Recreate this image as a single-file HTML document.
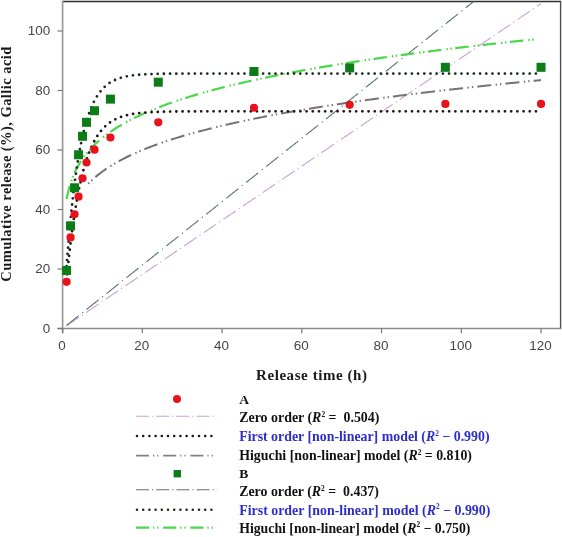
<!DOCTYPE html>
<html><head><meta charset="utf-8"><style>
html,body{margin:0;padding:0;background:#fff;}
body{width:562px;height:537px;overflow:hidden;}
svg{display:block;filter:blur(0.35px);}
.tk{font-family:"Liberation Sans",sans-serif;font-size:12px;fill:#444;}
.ttl{font-family:"Liberation Serif",serif;font-weight:bold;font-size:14px;fill:#1a1a1a;}
.lg{font-family:"Liberation Serif",serif;font-weight:bold;font-size:14.2px;}
</style></head><body>
<svg width="562" height="537" viewBox="0 0 562 537">
<rect width="562" height="537" fill="#fff"/>
<defs><clipPath id="pc"><rect x="62.6" y="1.5" width="498" height="327"/></clipPath></defs>
<line x1="62" y1="1.5" x2="561.2" y2="1.5" stroke="#2e2e2e" stroke-width="1.4"/>
<line x1="560.6" y1="1.5" x2="560.6" y2="328.5" stroke="#505050" stroke-width="1.4"/>
<line x1="62.6" y1="1" x2="62.6" y2="333.3" stroke="#9a9a9a" stroke-width="1.7"/>
<line x1="57.5" y1="328.5" x2="561.2" y2="328.5" stroke="#8a8a8a" stroke-width="1.6"/>
<line x1="57.5" y1="328.50" x2="62.6" y2="328.50" stroke="#777" stroke-width="1.2"/>
<text x="50.3" y="332.80" text-anchor="end" class="tk" textLength="7.47" lengthAdjust="spacingAndGlyphs">0</text>
<line x1="57.5" y1="269.00" x2="62.6" y2="269.00" stroke="#777" stroke-width="1.2"/>
<text x="50.3" y="273.30" text-anchor="end" class="tk" textLength="14.95" lengthAdjust="spacingAndGlyphs">20</text>
<line x1="57.5" y1="209.50" x2="62.6" y2="209.50" stroke="#777" stroke-width="1.2"/>
<text x="50.3" y="213.80" text-anchor="end" class="tk" textLength="14.95" lengthAdjust="spacingAndGlyphs">40</text>
<line x1="57.5" y1="150.00" x2="62.6" y2="150.00" stroke="#777" stroke-width="1.2"/>
<text x="50.3" y="154.30" text-anchor="end" class="tk" textLength="14.95" lengthAdjust="spacingAndGlyphs">60</text>
<line x1="57.5" y1="90.50" x2="62.6" y2="90.50" stroke="#777" stroke-width="1.2"/>
<text x="50.3" y="94.80" text-anchor="end" class="tk" textLength="14.95" lengthAdjust="spacingAndGlyphs">80</text>
<line x1="57.5" y1="31.00" x2="62.6" y2="31.00" stroke="#777" stroke-width="1.2"/>
<text x="50.3" y="35.30" text-anchor="end" class="tk" textLength="22.42" lengthAdjust="spacingAndGlyphs">100</text>
<line x1="62.60" y1="328.5" x2="62.60" y2="333.3" stroke="#777" stroke-width="1.2"/>
<text x="62.10" y="350.0" text-anchor="middle" class="tk" textLength="7.47" lengthAdjust="spacingAndGlyphs">0</text>
<line x1="142.34" y1="328.5" x2="142.34" y2="333.3" stroke="#777" stroke-width="1.2"/>
<text x="141.84" y="350.0" text-anchor="middle" class="tk" textLength="14.95" lengthAdjust="spacingAndGlyphs">20</text>
<line x1="222.08" y1="328.5" x2="222.08" y2="333.3" stroke="#777" stroke-width="1.2"/>
<text x="221.58" y="350.0" text-anchor="middle" class="tk" textLength="14.95" lengthAdjust="spacingAndGlyphs">40</text>
<line x1="301.82" y1="328.5" x2="301.82" y2="333.3" stroke="#777" stroke-width="1.2"/>
<text x="301.32" y="350.0" text-anchor="middle" class="tk" textLength="14.95" lengthAdjust="spacingAndGlyphs">60</text>
<line x1="381.56" y1="328.5" x2="381.56" y2="333.3" stroke="#777" stroke-width="1.2"/>
<text x="381.06" y="350.0" text-anchor="middle" class="tk" textLength="14.95" lengthAdjust="spacingAndGlyphs">80</text>
<line x1="461.30" y1="328.5" x2="461.30" y2="333.3" stroke="#777" stroke-width="1.2"/>
<text x="460.80" y="350.0" text-anchor="middle" class="tk" textLength="22.42" lengthAdjust="spacingAndGlyphs">100</text>
<line x1="541.04" y1="328.5" x2="541.04" y2="333.3" stroke="#777" stroke-width="1.2"/>
<text x="540.54" y="350.0" text-anchor="middle" class="tk" textLength="22.42" lengthAdjust="spacingAndGlyphs">120</text>
<g clip-path="url(#pc)" fill="none">
<path d="M66.59,325.79 L68.17,324.72 L69.75,323.64 L71.33,322.57 L72.91,321.50 L74.49,320.42 L76.08,319.35 L77.66,318.28 L79.24,317.20 L80.82,316.13 L82.40,315.05 L83.98,313.98 L85.57,312.91 L87.15,311.83 L88.73,310.76 L90.31,309.68 L91.89,308.61 L93.47,307.54 L95.05,306.46 L96.64,305.39 L98.22,304.32 L99.80,303.24 L101.38,302.17 L102.96,301.09 L104.54,300.02 L106.12,298.95 L107.71,297.87 L109.29,296.80 L110.87,295.72 L112.45,294.65 L114.03,293.58 L115.61,292.50 L117.20,291.43 L118.78,290.35 L120.36,289.28 L121.94,288.21 L123.52,287.13 L125.10,286.06 L126.68,284.99 L128.27,283.91 L129.85,282.84 L131.43,281.76 L133.01,280.69 L134.59,279.62 L136.17,278.54 L137.75,277.47 L139.34,276.39 L140.92,275.32 L142.50,274.25 L144.08,273.17 L145.66,272.10 L147.24,271.03 L148.83,269.95 L150.41,268.88 L151.99,267.80 L153.57,266.73 L155.15,265.66 L156.73,264.58 L158.31,263.51 L159.90,262.43 L161.48,261.36 L163.06,260.29 L164.64,259.21 L166.22,258.14 L167.80,257.06 L169.39,255.99 L170.97,254.92 L172.55,253.84 L174.13,252.77 L175.71,251.70 L177.29,250.62 L178.87,249.55 L180.46,248.47 L182.04,247.40 L183.62,246.33 L185.20,245.25 L186.78,244.18 L188.36,243.10 L189.94,242.03 L191.53,240.96 L193.11,239.88 L194.69,238.81 L196.27,237.73 L197.85,236.66 L199.43,235.59 L201.02,234.51 L202.60,233.44 L204.18,232.37 L205.76,231.29 L207.34,230.22 L208.92,229.14 L210.50,228.07 L212.09,227.00 L213.67,225.92 L215.25,224.85 L216.83,223.77 L218.41,222.70 L219.99,221.63 L221.57,220.55 L223.16,219.48 L224.74,218.41 L226.32,217.33 L227.90,216.26 L229.48,215.18 L231.06,214.11 L232.65,213.04 L234.23,211.96 L235.81,210.89 L237.39,209.81 L238.97,208.74 L240.55,207.67 L242.13,206.59 L243.72,205.52 L245.30,204.44 L246.88,203.37 L248.46,202.30 L250.04,201.22 L251.62,200.15 L253.21,199.08 L254.79,198.00 L256.37,196.93 L257.95,195.85 L259.53,194.78 L261.11,193.71 L262.69,192.63 L264.28,191.56 L265.86,190.48 L267.44,189.41 L269.02,188.34 L270.60,187.26 L272.18,186.19 L273.76,185.12 L275.35,184.04 L276.93,182.97 L278.51,181.89 L280.09,180.82 L281.67,179.75 L283.25,178.67 L284.84,177.60 L286.42,176.52 L288.00,175.45 L289.58,174.38 L291.16,173.30 L292.74,172.23 L294.32,171.15 L295.91,170.08 L297.49,169.01 L299.07,167.93 L300.65,166.86 L302.23,165.79 L303.81,164.71 L305.40,163.64 L306.98,162.56 L308.56,161.49 L310.14,160.42 L311.72,159.34 L313.30,158.27 L314.88,157.19 L316.47,156.12 L318.05,155.05 L319.63,153.97 L321.21,152.90 L322.79,151.82 L324.37,150.75 L325.95,149.68 L327.54,148.60 L329.12,147.53 L330.70,146.46 L332.28,145.38 L333.86,144.31 L335.44,143.23 L337.03,142.16 L338.61,141.09 L340.19,140.01 L341.77,138.94 L343.35,137.86 L344.93,136.79 L346.51,135.72 L348.10,134.64 L349.68,133.57 L351.26,132.50 L352.84,131.42 L354.42,130.35 L356.00,129.27 L357.58,128.20 L359.17,127.13 L360.75,126.05 L362.33,124.98 L363.91,123.90 L365.49,122.83 L367.07,121.76 L368.66,120.68 L370.24,119.61 L371.82,118.53 L373.40,117.46 L374.98,116.39 L376.56,115.31 L378.14,114.24 L379.73,113.17 L381.31,112.09 L382.89,111.02 L384.47,109.94 L386.05,108.87 L387.63,107.80 L389.22,106.72 L390.80,105.65 L392.38,104.57 L393.96,103.50 L395.54,102.43 L397.12,101.35 L398.70,100.28 L400.29,99.20 L401.87,98.13 L403.45,97.06 L405.03,95.98 L406.61,94.91 L408.19,93.84 L409.77,92.76 L411.36,91.69 L412.94,90.61 L414.52,89.54 L416.10,88.47 L417.68,87.39 L419.26,86.32 L420.85,85.24 L422.43,84.17 L424.01,83.10 L425.59,82.02 L427.17,80.95 L428.75,79.88 L430.33,78.80 L431.92,77.73 L433.50,76.65 L435.08,75.58 L436.66,74.51 L438.24,73.43 L439.82,72.36 L441.40,71.28 L442.99,70.21 L444.57,69.14 L446.15,68.06 L447.73,66.99 L449.31,65.91 L450.89,64.84 L452.48,63.77 L454.06,62.69 L455.64,61.62 L457.22,60.55 L458.80,59.47 L460.38,58.40 L461.96,57.32 L463.55,56.25 L465.13,55.18 L466.71,54.10 L468.29,53.03 L469.87,51.95 L471.45,50.88 L473.04,49.81 L474.62,48.73 L476.20,47.66 L477.78,46.59 L479.36,45.51 L480.94,44.44 L482.52,43.36 L484.11,42.29 L485.69,41.22 L487.27,40.14 L488.85,39.07 L490.43,37.99 L492.01,36.92 L493.59,35.85 L495.18,34.77 L496.76,33.70 L498.34,32.62 L499.92,31.55 L501.50,30.48 L503.08,29.40 L504.67,28.33 L506.25,27.26 L507.83,26.18 L509.41,25.11 L510.99,24.03 L512.57,22.96 L514.15,21.89 L515.74,20.81 L517.32,19.74 L518.90,18.66 L520.48,17.59 L522.06,16.52 L523.64,15.44 L525.22,14.37 L526.81,13.29 L528.39,12.22 L529.97,11.15 L531.55,10.07 L533.13,9.00 L534.71,7.93 L536.30,6.85 L537.88,5.78 L539.46,4.70 L541.04,3.63" stroke="#cba0d6" stroke-width="1.1" stroke-dasharray="15 3.5 1.2 4"/>
<path d="M66.59,325.33 L67.96,324.24 L69.32,323.15 L70.69,322.06 L72.06,320.97 L73.43,319.88 L74.80,318.80 L76.17,317.71 L77.54,316.62 L78.91,315.53 L80.28,314.44 L81.64,313.35 L83.01,312.26 L84.38,311.17 L85.75,310.09 L87.12,309.00 L88.49,307.91 L89.86,306.82 L91.23,305.73 L92.60,304.64 L93.96,303.55 L95.33,302.46 L96.70,301.37 L98.07,300.29 L99.44,299.20 L100.81,298.11 L102.18,297.02 L103.55,295.93 L104.92,294.84 L106.28,293.75 L107.65,292.66 L109.02,291.57 L110.39,290.49 L111.76,289.40 L113.13,288.31 L114.50,287.22 L115.87,286.13 L117.24,285.04 L118.60,283.95 L119.97,282.86 L121.34,281.78 L122.71,280.69 L124.08,279.60 L125.45,278.51 L126.82,277.42 L128.19,276.33 L129.56,275.24 L130.92,274.15 L132.29,273.06 L133.66,271.98 L135.03,270.89 L136.40,269.80 L137.77,268.71 L139.14,267.62 L140.51,266.53 L141.87,265.44 L143.24,264.35 L144.61,263.27 L145.98,262.18 L147.35,261.09 L148.72,260.00 L150.09,258.91 L151.46,257.82 L152.83,256.73 L154.19,255.64 L155.56,254.55 L156.93,253.47 L158.30,252.38 L159.67,251.29 L161.04,250.20 L162.41,249.11 L163.78,248.02 L165.15,246.93 L166.51,245.84 L167.88,244.76 L169.25,243.67 L170.62,242.58 L171.99,241.49 L173.36,240.40 L174.73,239.31 L176.10,238.22 L177.47,237.13 L178.83,236.04 L180.20,234.96 L181.57,233.87 L182.94,232.78 L184.31,231.69 L185.68,230.60 L187.05,229.51 L188.42,228.42 L189.79,227.33 L191.15,226.25 L192.52,225.16 L193.89,224.07 L195.26,222.98 L196.63,221.89 L198.00,220.80 L199.37,219.71 L200.74,218.62 L202.11,217.53 L203.47,216.45 L204.84,215.36 L206.21,214.27 L207.58,213.18 L208.95,212.09 L210.32,211.00 L211.69,209.91 L213.06,208.82 L214.42,207.73 L215.79,206.65 L217.16,205.56 L218.53,204.47 L219.90,203.38 L221.27,202.29 L222.64,201.20 L224.01,200.11 L225.38,199.02 L226.74,197.94 L228.11,196.85 L229.48,195.76 L230.85,194.67 L232.22,193.58 L233.59,192.49 L234.96,191.40 L236.33,190.31 L237.70,189.22 L239.06,188.14 L240.43,187.05 L241.80,185.96 L243.17,184.87 L244.54,183.78 L245.91,182.69 L247.28,181.60 L248.65,180.51 L250.02,179.43 L251.38,178.34 L252.75,177.25 L254.12,176.16 L255.49,175.07 L256.86,173.98 L258.23,172.89 L259.60,171.80 L260.97,170.71 L262.34,169.63 L263.70,168.54 L265.07,167.45 L266.44,166.36 L267.81,165.27 L269.18,164.18 L270.55,163.09 L271.92,162.00 L273.29,160.92 L274.66,159.83 L276.02,158.74 L277.39,157.65 L278.76,156.56 L280.13,155.47 L281.50,154.38 L282.87,153.29 L284.24,152.20 L285.61,151.12 L286.98,150.03 L288.34,148.94 L289.71,147.85 L291.08,146.76 L292.45,145.67 L293.82,144.58 L295.19,143.49 L296.56,142.41 L297.93,141.32 L299.29,140.23 L300.66,139.14 L302.03,138.05 L303.40,136.96 L304.77,135.87 L306.14,134.78 L307.51,133.69 L308.88,132.61 L310.25,131.52 L311.61,130.43 L312.98,129.34 L314.35,128.25 L315.72,127.16 L317.09,126.07 L318.46,124.98 L319.83,123.90 L321.20,122.81 L322.57,121.72 L323.93,120.63 L325.30,119.54 L326.67,118.45 L328.04,117.36 L329.41,116.27 L330.78,115.18 L332.15,114.10 L333.52,113.01 L334.89,111.92 L336.25,110.83 L337.62,109.74 L338.99,108.65 L340.36,107.56 L341.73,106.47 L343.10,105.38 L344.47,104.30 L345.84,103.21 L347.21,102.12 L348.57,101.03 L349.94,99.94 L351.31,98.85 L352.68,97.76 L354.05,96.67 L355.42,95.59 L356.79,94.50 L358.16,93.41 L359.53,92.32 L360.89,91.23 L362.26,90.14 L363.63,89.05 L365.00,87.96 L366.37,86.87 L367.74,85.79 L369.11,84.70 L370.48,83.61 L371.85,82.52 L373.21,81.43 L374.58,80.34 L375.95,79.25 L377.32,78.16 L378.69,77.08 L380.06,75.99 L381.43,74.90 L382.80,73.81 L384.16,72.72 L385.53,71.63 L386.90,70.54 L388.27,69.45 L389.64,68.36 L391.01,67.28 L392.38,66.19 L393.75,65.10 L395.12,64.01 L396.48,62.92 L397.85,61.83 L399.22,60.74 L400.59,59.65 L401.96,58.57 L403.33,57.48 L404.70,56.39 L406.07,55.30 L407.44,54.21 L408.80,53.12 L410.17,52.03 L411.54,50.94 L412.91,49.85 L414.28,48.77 L415.65,47.68 L417.02,46.59 L418.39,45.50 L419.76,44.41 L421.12,43.32 L422.49,42.23 L423.86,41.14 L425.23,40.06 L426.60,38.97 L427.97,37.88 L429.34,36.79 L430.71,35.70 L432.08,34.61 L433.44,33.52 L434.81,32.43 L436.18,31.34 L437.55,30.26 L438.92,29.17 L440.29,28.08 L441.66,26.99 L443.03,25.90 L444.40,24.81 L445.76,23.72 L447.13,22.63 L448.50,21.55 L449.87,20.46 L451.24,19.37 L452.61,18.28 L453.98,17.19 L455.35,16.10 L456.71,15.01 L458.08,13.92 L459.45,12.83 L460.82,11.75 L462.19,10.66 L463.56,9.57 L464.93,8.48 L466.30,7.39 L467.67,6.30 L469.03,5.21 L470.40,4.12 L471.77,3.03 L473.14,1.95 L474.51,0.86 L475.88,-0.23 L477.25,-1.32" stroke="#5a7070" stroke-width="1.1" stroke-dasharray="15.5 4.5 1.2 4.3"/>
<path d="M86.52,185.63 L88.04,184.00 L89.55,182.45 L91.07,180.96 L92.58,179.54 L94.10,178.18 L95.61,176.87 L97.13,175.61 L98.64,174.40 L100.16,173.22 L101.67,172.08 L103.19,170.98 L104.70,169.91 L106.22,168.87 L107.73,167.86 L109.25,166.88 L110.76,165.92 L112.28,164.99 L113.79,164.08 L115.31,163.20 L116.82,162.33 L118.34,161.48 L119.85,160.65 L121.37,159.84 L122.88,159.05 L124.40,158.27 L125.91,157.51 L127.43,156.76 L128.94,156.02 L130.46,155.30 L131.97,154.60 L133.49,153.90 L135.00,153.22 L136.52,152.55 L138.03,151.89 L139.55,151.24 L141.06,150.60 L142.58,149.97 L144.09,149.35 L145.61,148.74 L147.12,148.14 L148.64,147.54 L150.15,146.96 L151.67,146.38 L153.18,145.82 L154.70,145.26 L156.21,144.70 L157.73,144.16 L159.24,143.62 L160.76,143.09 L162.28,142.56 L163.79,142.04 L165.31,141.53 L166.82,141.03 L168.34,140.53 L169.85,140.03 L171.37,139.54 L172.88,139.06 L174.40,138.58 L175.91,138.11 L177.43,137.64 L178.94,137.18 L180.46,136.72 L181.97,136.27 L183.49,135.82 L185.00,135.38 L186.52,134.94 L188.03,134.50 L189.55,134.07 L191.06,133.65 L192.58,133.23 L194.09,132.81 L195.61,132.39 L197.12,131.98 L198.64,131.58 L200.15,131.17 L201.67,130.77 L203.18,130.38 L204.70,129.98 L206.21,129.60 L207.73,129.21 L209.24,128.83 L210.76,128.45 L212.27,128.07 L213.79,127.70 L215.30,127.33 L216.82,126.96 L218.33,126.60 L219.85,126.24 L221.36,125.88 L222.88,125.52 L224.39,125.17 L225.91,124.82 L227.42,124.47 L228.94,124.13 L230.45,123.79 L231.97,123.45 L233.48,123.11 L235.00,122.77 L236.51,122.44 L238.03,122.11 L239.54,121.78 L241.06,121.46 L242.57,121.13 L244.09,120.81 L245.60,120.49 L247.12,120.18 L248.63,119.86 L250.15,119.55 L251.66,119.24 L253.18,118.93 L254.69,118.62 L256.21,118.32 L257.72,118.02 L259.24,117.72 L260.75,117.42 L262.27,117.12 L263.78,116.82 L265.30,116.53 L266.81,116.24 L268.33,115.95 L269.84,115.66 L271.36,115.38 L272.87,115.09 L274.39,114.81 L275.90,114.53 L277.42,114.25 L278.93,113.97 L280.45,113.69 L281.96,113.42 L283.48,113.14 L284.99,112.87 L286.51,112.60 L288.02,112.33 L289.54,112.06 L291.06,111.80 L292.57,111.53 L294.09,111.27 L295.60,111.01 L297.12,110.75 L298.63,110.49 L300.15,110.23 L301.66,109.98 L303.18,109.72 L304.69,109.47 L306.21,109.21 L307.72,108.96 L309.24,108.71 L310.75,108.47 L312.27,108.22 L313.78,107.97 L315.30,107.73 L316.81,107.48 L318.33,107.24 L319.84,107.00 L321.36,106.76 L322.87,106.52 L324.39,106.28 L325.90,106.04 L327.42,105.81 L328.93,105.57 L330.45,105.34 L331.96,105.11 L333.48,104.88 L334.99,104.65 L336.51,104.42 L338.02,104.19 L339.54,103.96 L341.05,103.74 L342.57,103.51 L344.08,103.29 L345.60,103.06 L347.11,102.84 L348.63,102.62 L350.14,102.40 L351.66,102.18 L353.17,101.96 L354.69,101.74 L356.20,101.53 L357.72,101.31 L359.23,101.10 L360.75,100.88 L362.26,100.67 L363.78,100.46 L365.29,100.25 L366.81,100.03 L368.32,99.83 L369.84,99.62 L371.35,99.41 L372.87,99.20 L374.38,99.00 L375.90,98.79 L377.41,98.58 L378.93,98.38 L380.44,98.18 L381.96,97.98 L383.47,97.77 L384.99,97.57 L386.50,97.37 L388.02,97.17 L389.53,96.98 L391.05,96.78 L392.56,96.58 L394.08,96.39 L395.59,96.19 L397.11,95.99 L398.62,95.80 L400.14,95.61 L401.65,95.41 L403.17,95.22 L404.68,95.03 L406.20,94.84 L407.71,94.65 L409.23,94.46 L410.74,94.27 L412.26,94.09 L413.77,93.90 L415.29,93.71 L416.81,93.53 L418.32,93.34 L419.84,93.16 L421.35,92.97 L422.87,92.79 L424.38,92.61 L425.90,92.42 L427.41,92.24 L428.93,92.06 L430.44,91.88 L431.96,91.70 L433.47,91.52 L434.99,91.35 L436.50,91.17 L438.02,90.99 L439.53,90.81 L441.05,90.64 L442.56,90.46 L444.08,90.29 L445.59,90.11 L447.11,89.94 L448.62,89.77 L450.14,89.59 L451.65,89.42 L453.17,89.25 L454.68,89.08 L456.20,88.91 L457.71,88.74 L459.23,88.57 L460.74,88.40 L462.26,88.23 L463.77,88.06 L465.29,87.90 L466.80,87.73 L468.32,87.56 L469.83,87.40 L471.35,87.23 L472.86,87.07 L474.38,86.90 L475.89,86.74 L477.41,86.57 L478.92,86.41 L480.44,86.25 L481.95,86.09 L483.47,85.93 L484.98,85.77 L486.50,85.60 L488.01,85.44 L489.53,85.29 L491.04,85.13 L492.56,84.97 L494.07,84.81 L495.59,84.65 L497.10,84.49 L498.62,84.34 L500.13,84.18 L501.65,84.02 L503.16,83.87 L504.68,83.71 L506.19,83.56 L507.71,83.41 L509.22,83.25 L510.74,83.10 L512.25,82.95 L513.77,82.79 L515.28,82.64 L516.80,82.49 L518.31,82.34 L519.83,82.19 L521.34,82.04 L522.86,81.89 L524.37,81.74 L525.89,81.59 L527.40,81.44 L528.92,81.29 L530.43,81.14 L531.95,80.99 L533.46,80.85 L534.98,80.70 L536.49,80.55 L538.01,80.41 L539.52,80.26 L541.04,80.12" stroke="#747474" stroke-width="2" stroke-dasharray="14 4.5 1.4 3 1.4 4" stroke-dashoffset="16"/>
<path d="M66.59,199.09 L68.15,191.67 L69.72,185.83 L71.28,180.97 L72.84,176.80 L74.41,173.12 L75.97,169.84 L77.54,166.85 L79.10,164.12 L80.67,161.59 L82.23,159.24 L83.79,157.04 L85.36,154.97 L86.92,153.02 L88.49,151.17 L90.05,149.41 L91.61,147.73 L93.18,146.12 L94.74,144.58 L96.31,143.11 L97.87,141.68 L99.44,140.31 L101.00,138.99 L102.56,137.71 L104.13,136.48 L105.69,135.28 L107.26,134.11 L108.82,132.98 L110.39,131.88 L111.95,130.81 L113.51,129.77 L115.08,128.76 L116.64,127.77 L118.21,126.80 L119.77,125.86 L121.34,124.93 L122.90,124.03 L124.46,123.15 L126.03,122.28 L127.59,121.43 L129.16,120.60 L130.72,119.79 L132.28,118.99 L133.85,118.20 L135.41,117.43 L136.98,116.67 L138.54,115.93 L140.11,115.20 L141.67,114.48 L143.23,113.77 L144.80,113.08 L146.36,112.39 L147.93,111.72 L149.49,111.05 L151.06,110.40 L152.62,109.76 L154.18,109.12 L155.75,108.49 L157.31,107.88 L158.88,107.27 L160.44,106.66 L162.01,106.07 L163.57,105.49 L165.13,104.91 L166.70,104.34 L168.26,103.77 L169.83,103.22 L171.39,102.67 L172.95,102.12 L174.52,101.59 L176.08,101.05 L177.65,100.53 L179.21,100.01 L180.78,99.50 L182.34,98.99 L183.90,98.49 L185.47,97.99 L187.03,97.50 L188.60,97.01 L190.16,96.53 L191.73,96.05 L193.29,95.58 L194.85,95.12 L196.42,94.65 L197.98,94.19 L199.55,93.74 L201.11,93.29 L202.68,92.85 L204.24,92.40 L205.80,91.97 L207.37,91.53 L208.93,91.11 L210.50,90.68 L212.06,90.26 L213.62,89.84 L215.19,89.43 L216.75,89.01 L218.32,88.61 L219.88,88.20 L221.45,87.80 L223.01,87.40 L224.57,87.01 L226.14,86.62 L227.70,86.23 L229.27,85.85 L230.83,85.46 L232.40,85.09 L233.96,84.71 L235.52,84.34 L237.09,83.97 L238.65,83.60 L240.22,83.23 L241.78,82.87 L243.35,82.51 L244.91,82.15 L246.47,81.80 L248.04,81.45 L249.60,81.10 L251.17,80.75 L252.73,80.40 L254.29,80.06 L255.86,79.72 L257.42,79.38 L258.99,79.05 L260.55,78.71 L262.12,78.38 L263.68,78.05 L265.24,77.73 L266.81,77.40 L268.37,77.08 L269.94,76.76 L271.50,76.44 L273.07,76.12 L274.63,75.81 L276.19,75.49 L277.76,75.18 L279.32,74.87 L280.89,74.57 L282.45,74.26 L284.02,73.96 L285.58,73.66 L287.14,73.36 L288.71,73.06 L290.27,72.76 L291.84,72.47 L293.40,72.17 L294.97,71.88 L296.53,71.59 L298.09,71.30 L299.66,71.01 L301.22,70.73 L302.79,70.45 L304.35,70.16 L305.91,69.88 L307.48,69.60 L309.04,69.33 L310.61,69.05 L312.17,68.77 L313.74,68.50 L315.30,68.23 L316.86,67.96 L318.43,67.69 L319.99,67.42 L321.56,67.15 L323.12,66.89 L324.69,66.63 L326.25,66.36 L327.81,66.10 L329.38,65.84 L330.94,65.58 L332.51,65.33 L334.07,65.07 L335.64,64.81 L337.20,64.56 L338.76,64.31 L340.33,64.06 L341.89,63.81 L343.46,63.56 L345.02,63.31 L346.58,63.06 L348.15,62.82 L349.71,62.57 L351.28,62.33 L352.84,62.09 L354.41,61.85 L355.97,61.61 L357.53,61.37 L359.10,61.13 L360.66,60.89 L362.23,60.65 L363.79,60.42 L365.36,60.19 L366.92,59.95 L368.48,59.72 L370.05,59.49 L371.61,59.26 L373.18,59.03 L374.74,58.80 L376.31,58.58 L377.87,58.35 L379.43,58.12 L381.00,57.90 L382.56,57.68 L384.13,57.45 L385.69,57.23 L387.25,57.01 L388.82,56.79 L390.38,56.57 L391.95,56.35 L393.51,56.14 L395.08,55.92 L396.64,55.71 L398.20,55.49 L399.77,55.28 L401.33,55.06 L402.90,54.85 L404.46,54.64 L406.03,54.43 L407.59,54.22 L409.15,54.01 L410.72,53.80 L412.28,53.60 L413.85,53.39 L415.41,53.18 L416.98,52.98 L418.54,52.77 L420.10,52.57 L421.67,52.37 L423.23,52.16 L424.80,51.96 L426.36,51.76 L427.92,51.56 L429.49,51.36 L431.05,51.16 L432.62,50.97 L434.18,50.77 L435.75,50.57 L437.31,50.38 L438.87,50.18 L440.44,49.99 L442.00,49.79 L443.57,49.60 L445.13,49.41 L446.70,49.22 L448.26,49.02 L449.82,48.83 L451.39,48.64 L452.95,48.45 L454.52,48.27 L456.08,48.08 L457.65,47.89 L459.21,47.70 L460.77,47.52 L462.34,47.33 L463.90,47.15 L465.47,46.96 L467.03,46.78 L468.59,46.60 L470.16,46.41 L471.72,46.23 L473.29,46.05 L474.85,45.87 L476.42,45.69 L477.98,45.51 L479.54,45.33 L481.11,45.15 L482.67,44.97 L484.24,44.79 L485.80,44.62 L487.37,44.44 L488.93,44.27 L490.49,44.09 L492.06,43.92 L493.62,43.74 L495.19,43.57 L496.75,43.39 L498.32,43.22 L499.88,43.05 L501.44,42.88 L503.01,42.71 L504.57,42.54 L506.14,42.37 L507.70,42.20 L509.26,42.03 L510.83,41.86 L512.39,41.69 L513.96,41.52 L515.52,41.35 L517.09,41.19 L518.65,41.02 L520.21,40.86 L521.78,40.69 L523.34,40.53 L524.91,40.36 L526.47,40.20 L528.04,40.03 L529.60,39.87 L531.16,39.71 L532.73,39.55 L534.29,39.38 L535.86,39.22" stroke="#4ad84a" stroke-width="2.2" stroke-dasharray="13.5 5 1.5 2.5 1.5 3.5"/>
<path d="M66.59,280.46 L68.17,264.49 L69.75,250.03 L71.33,236.94 L72.91,225.08 L74.49,214.34 L76.08,204.61 L77.66,195.81 L79.24,187.83 L80.82,180.61 L82.40,174.07 L83.98,168.14 L85.57,162.78 L87.15,157.92 L88.73,153.52 L90.31,149.54 L91.89,145.93 L93.47,142.66 L95.05,139.71 L96.64,137.03 L98.22,134.60 L99.80,132.40 L101.38,130.41 L102.96,128.61 L104.54,126.98 L106.12,125.50 L107.71,124.16 L109.29,122.95 L110.87,121.85 L112.45,120.86 L114.03,119.96 L115.61,119.14 L117.20,118.41 L118.78,117.74 L120.36,117.13 L121.94,116.58 L123.52,116.09 L125.10,115.64 L126.68,115.23 L128.27,114.86 L129.85,114.53 L131.43,114.23 L133.01,113.95 L134.59,113.70 L136.17,113.48 L137.75,113.28 L139.34,113.09 L140.92,112.92 L142.50,112.77 L144.08,112.64 L145.66,112.51 L147.24,112.40 L148.83,112.30 L150.41,112.21 L151.99,112.12 L153.57,112.05 L155.15,111.98 L156.73,111.92 L158.31,111.86 L159.90,111.81 L161.48,111.77 L163.06,111.72 L164.64,111.69 L166.22,111.65 L167.80,111.62 L169.39,111.59 L170.97,111.57 L172.55,111.55 L174.13,111.52 L175.71,111.51 L177.29,111.49 L178.87,111.47 L180.46,111.46 L182.04,111.45 L183.62,111.43 L185.20,111.42 L186.78,111.42 L188.36,111.41 L189.94,111.40 L191.53,111.39 L193.11,111.39 L194.69,111.38 L196.27,111.37 L197.85,111.37 L199.43,111.37 L201.02,111.36 L202.60,111.36 L204.18,111.36 L205.76,111.35 L207.34,111.35 L208.92,111.35 L210.50,111.35 L212.09,111.34 L213.67,111.34 L215.25,111.34 L216.83,111.34 L218.41,111.34 L219.99,111.34 L221.57,111.34 L223.16,111.33 L224.74,111.33 L226.32,111.33 L227.90,111.33 L229.48,111.33 L231.06,111.33 L232.65,111.33 L234.23,111.33 L235.81,111.33 L237.39,111.33 L238.97,111.33 L240.55,111.33 L242.13,111.33 L243.72,111.33 L245.30,111.33 L246.88,111.33 L248.46,111.33 L250.04,111.33 L251.62,111.33 L253.21,111.33 L254.79,111.33 L256.37,111.33 L257.95,111.33 L259.53,111.33 L261.11,111.33 L262.69,111.33 L264.28,111.33 L265.86,111.33 L267.44,111.33 L269.02,111.33 L270.60,111.33 L272.18,111.33 L273.76,111.33 L275.35,111.33 L276.93,111.33 L278.51,111.33 L280.09,111.33 L281.67,111.33 L283.25,111.33 L284.84,111.33 L286.42,111.33 L288.00,111.33 L289.58,111.33 L291.16,111.33 L292.74,111.33 L294.32,111.33 L295.91,111.33 L297.49,111.33 L299.07,111.33 L300.65,111.33 L302.23,111.33 L303.81,111.33 L305.40,111.33 L306.98,111.33 L308.56,111.33 L310.14,111.33 L311.72,111.33 L313.30,111.33 L314.88,111.33 L316.47,111.33 L318.05,111.33 L319.63,111.33 L321.21,111.33 L322.79,111.33 L324.37,111.33 L325.95,111.33 L327.54,111.33 L329.12,111.33 L330.70,111.33 L332.28,111.33 L333.86,111.33 L335.44,111.33 L337.03,111.33 L338.61,111.33 L340.19,111.33 L341.77,111.33 L343.35,111.33 L344.93,111.33 L346.51,111.33 L348.10,111.33 L349.68,111.33 L351.26,111.33 L352.84,111.33 L354.42,111.33 L356.00,111.33 L357.58,111.33 L359.17,111.33 L360.75,111.33 L362.33,111.33 L363.91,111.33 L365.49,111.33 L367.07,111.33 L368.66,111.33 L370.24,111.33 L371.82,111.33 L373.40,111.33 L374.98,111.33 L376.56,111.33 L378.14,111.33 L379.73,111.33 L381.31,111.33 L382.89,111.33 L384.47,111.33 L386.05,111.33 L387.63,111.33 L389.22,111.33 L390.80,111.33 L392.38,111.33 L393.96,111.33 L395.54,111.33 L397.12,111.33 L398.70,111.33 L400.29,111.33 L401.87,111.33 L403.45,111.33 L405.03,111.33 L406.61,111.33 L408.19,111.33 L409.77,111.33 L411.36,111.33 L412.94,111.33 L414.52,111.33 L416.10,111.33 L417.68,111.33 L419.26,111.33 L420.85,111.33 L422.43,111.33 L424.01,111.33 L425.59,111.33 L427.17,111.33 L428.75,111.33 L430.33,111.33 L431.92,111.33 L433.50,111.33 L435.08,111.33 L436.66,111.33 L438.24,111.33 L439.82,111.33 L441.40,111.33 L442.99,111.33 L444.57,111.33 L446.15,111.33 L447.73,111.33 L449.31,111.33 L450.89,111.33 L452.48,111.33 L454.06,111.33 L455.64,111.33 L457.22,111.33 L458.80,111.33 L460.38,111.33 L461.96,111.33 L463.55,111.33 L465.13,111.33 L466.71,111.33 L468.29,111.33 L469.87,111.33 L471.45,111.33 L473.04,111.33 L474.62,111.33 L476.20,111.33 L477.78,111.33 L479.36,111.33 L480.94,111.33 L482.52,111.33 L484.11,111.33 L485.69,111.33 L487.27,111.33 L488.85,111.33 L490.43,111.33 L492.01,111.33 L493.59,111.33 L495.18,111.33 L496.76,111.33 L498.34,111.33 L499.92,111.33 L501.50,111.33 L503.08,111.33 L504.67,111.33 L506.25,111.33 L507.83,111.33 L509.41,111.33 L510.99,111.33 L512.57,111.33 L514.15,111.33 L515.74,111.33 L517.32,111.33 L518.90,111.33 L520.48,111.33 L522.06,111.33 L523.64,111.33 L525.22,111.33 L526.81,111.33 L528.39,111.33 L529.97,111.33 L531.55,111.33 L533.13,111.33 L534.71,111.33 L536.30,111.33 L537.88,111.33 L539.46,111.33 L541.04,111.33" stroke="#241414" stroke-width="2.8" stroke-dasharray="0 6.2" stroke-linecap="round"/>
<path d="M66.59,266.24 L68.17,245.98 L69.75,227.85 L71.33,211.63 L72.91,197.12 L74.49,184.13 L76.08,172.50 L77.66,162.10 L79.24,152.79 L80.82,144.46 L82.40,137.00 L83.98,130.33 L85.57,124.36 L87.15,119.02 L88.73,114.24 L90.31,109.96 L91.89,106.13 L93.47,102.71 L95.05,99.64 L96.64,96.90 L98.22,94.44 L99.80,92.25 L101.38,90.28 L102.96,88.52 L104.54,86.95 L106.12,85.54 L107.71,84.28 L109.29,83.15 L110.87,82.14 L112.45,81.23 L114.03,80.43 L115.61,79.70 L117.20,79.05 L118.78,78.48 L120.36,77.96 L121.94,77.49 L123.52,77.08 L125.10,76.71 L126.68,76.37 L128.27,76.08 L129.85,75.81 L131.43,75.57 L133.01,75.36 L134.59,75.17 L136.17,75.00 L137.75,74.84 L139.34,74.71 L140.92,74.58 L142.50,74.47 L144.08,74.38 L145.66,74.29 L147.24,74.21 L148.83,74.14 L150.41,74.08 L151.99,74.02 L153.57,73.97 L155.15,73.93 L156.73,73.89 L158.31,73.85 L159.90,73.82 L161.48,73.79 L163.06,73.76 L164.64,73.74 L166.22,73.72 L167.80,73.70 L169.39,73.68 L170.97,73.67 L172.55,73.66 L174.13,73.64 L175.71,73.63 L177.29,73.62 L178.87,73.61 L180.46,73.61 L182.04,73.60 L183.62,73.59 L185.20,73.59 L186.78,73.58 L188.36,73.58 L189.94,73.58 L191.53,73.57 L193.11,73.57 L194.69,73.57 L196.27,73.56 L197.85,73.56 L199.43,73.56 L201.02,73.56 L202.60,73.56 L204.18,73.55 L205.76,73.55 L207.34,73.55 L208.92,73.55 L210.50,73.55 L212.09,73.55 L213.67,73.55 L215.25,73.55 L216.83,73.55 L218.41,73.55 L219.99,73.55 L221.57,73.55 L223.16,73.55 L224.74,73.55 L226.32,73.55 L227.90,73.54 L229.48,73.54 L231.06,73.54 L232.65,73.54 L234.23,73.54 L235.81,73.54 L237.39,73.54 L238.97,73.54 L240.55,73.54 L242.13,73.54 L243.72,73.54 L245.30,73.54 L246.88,73.54 L248.46,73.54 L250.04,73.54 L251.62,73.54 L253.21,73.54 L254.79,73.54 L256.37,73.54 L257.95,73.54 L259.53,73.54 L261.11,73.54 L262.69,73.54 L264.28,73.54 L265.86,73.54 L267.44,73.54 L269.02,73.54 L270.60,73.54 L272.18,73.54 L273.76,73.54 L275.35,73.54 L276.93,73.54 L278.51,73.54 L280.09,73.54 L281.67,73.54 L283.25,73.54 L284.84,73.54 L286.42,73.54 L288.00,73.54 L289.58,73.54 L291.16,73.54 L292.74,73.54 L294.32,73.54 L295.91,73.54 L297.49,73.54 L299.07,73.54 L300.65,73.54 L302.23,73.54 L303.81,73.54 L305.40,73.54 L306.98,73.54 L308.56,73.54 L310.14,73.54 L311.72,73.54 L313.30,73.54 L314.88,73.54 L316.47,73.54 L318.05,73.54 L319.63,73.54 L321.21,73.54 L322.79,73.54 L324.37,73.54 L325.95,73.54 L327.54,73.54 L329.12,73.54 L330.70,73.54 L332.28,73.54 L333.86,73.54 L335.44,73.54 L337.03,73.54 L338.61,73.54 L340.19,73.54 L341.77,73.54 L343.35,73.54 L344.93,73.54 L346.51,73.54 L348.10,73.54 L349.68,73.54 L351.26,73.54 L352.84,73.54 L354.42,73.54 L356.00,73.54 L357.58,73.54 L359.17,73.54 L360.75,73.54 L362.33,73.54 L363.91,73.54 L365.49,73.54 L367.07,73.54 L368.66,73.54 L370.24,73.54 L371.82,73.54 L373.40,73.54 L374.98,73.54 L376.56,73.54 L378.14,73.54 L379.73,73.54 L381.31,73.54 L382.89,73.54 L384.47,73.54 L386.05,73.54 L387.63,73.54 L389.22,73.54 L390.80,73.54 L392.38,73.54 L393.96,73.54 L395.54,73.54 L397.12,73.54 L398.70,73.54 L400.29,73.54 L401.87,73.54 L403.45,73.54 L405.03,73.54 L406.61,73.54 L408.19,73.54 L409.77,73.54 L411.36,73.54 L412.94,73.54 L414.52,73.54 L416.10,73.54 L417.68,73.54 L419.26,73.54 L420.85,73.54 L422.43,73.54 L424.01,73.54 L425.59,73.54 L427.17,73.54 L428.75,73.54 L430.33,73.54 L431.92,73.54 L433.50,73.54 L435.08,73.54 L436.66,73.54 L438.24,73.54 L439.82,73.54 L441.40,73.54 L442.99,73.54 L444.57,73.54 L446.15,73.54 L447.73,73.54 L449.31,73.54 L450.89,73.54 L452.48,73.54 L454.06,73.54 L455.64,73.54 L457.22,73.54 L458.80,73.54 L460.38,73.54 L461.96,73.54 L463.55,73.54 L465.13,73.54 L466.71,73.54 L468.29,73.54 L469.87,73.54 L471.45,73.54 L473.04,73.54 L474.62,73.54 L476.20,73.54 L477.78,73.54 L479.36,73.54 L480.94,73.54 L482.52,73.54 L484.11,73.54 L485.69,73.54 L487.27,73.54 L488.85,73.54 L490.43,73.54 L492.01,73.54 L493.59,73.54 L495.18,73.54 L496.76,73.54 L498.34,73.54 L499.92,73.54 L501.50,73.54 L503.08,73.54 L504.67,73.54 L506.25,73.54 L507.83,73.54 L509.41,73.54 L510.99,73.54 L512.57,73.54 L514.15,73.54 L515.74,73.54 L517.32,73.54 L518.90,73.54 L520.48,73.54 L522.06,73.54 L523.64,73.54 L525.22,73.54 L526.81,73.54 L528.39,73.54 L529.97,73.54 L531.55,73.54 L533.13,73.54 L534.71,73.54 L536.30,73.54 L537.88,73.54 L539.46,73.54 L541.04,73.54" stroke="#1c2c1c" stroke-width="2.8" stroke-dasharray="0 6.2" stroke-linecap="round"/>
</g>
<rect x="62.09" y="265.99" width="9" height="9" fill="#0c7c16"/>
<rect x="66.07" y="221.36" width="9" height="9" fill="#0c7c16"/>
<rect x="70.06" y="183.28" width="9" height="9" fill="#0c7c16"/>
<rect x="74.05" y="150.26" width="9" height="9" fill="#0c7c16"/>
<rect x="78.03" y="131.81" width="9" height="9" fill="#0c7c16"/>
<rect x="82.02" y="117.83" width="9" height="9" fill="#0c7c16"/>
<rect x="90.00" y="106.23" width="9" height="9" fill="#0c7c16"/>
<rect x="105.94" y="94.63" width="9" height="9" fill="#0c7c16"/>
<rect x="153.79" y="77.67" width="9" height="9" fill="#0c7c16"/>
<rect x="249.48" y="66.96" width="9" height="9" fill="#0c7c16"/>
<rect x="345.16" y="63.39" width="9" height="9" fill="#0c7c16"/>
<rect x="440.85" y="62.80" width="9" height="9" fill="#0c7c16"/>
<rect x="536.54" y="62.80" width="9" height="9" fill="#0c7c16"/>
<circle cx="66.59" cy="281.79" r="4.1" fill="#e8121c"/>
<circle cx="70.57" cy="237.46" r="4.1" fill="#e8121c"/>
<circle cx="74.56" cy="214.26" r="4.1" fill="#e8121c"/>
<circle cx="78.55" cy="196.71" r="4.1" fill="#e8121c"/>
<circle cx="82.53" cy="178.26" r="4.1" fill="#e8121c"/>
<circle cx="86.52" cy="162.50" r="4.1" fill="#e8121c"/>
<circle cx="94.50" cy="149.70" r="4.1" fill="#e8121c"/>
<circle cx="110.44" cy="137.50" r="4.1" fill="#e8121c"/>
<circle cx="158.29" cy="122.33" r="4.1" fill="#e8121c"/>
<circle cx="253.98" cy="107.75" r="4.1" fill="#e8121c"/>
<circle cx="349.66" cy="104.78" r="4.1" fill="#e8121c"/>
<circle cx="445.35" cy="103.89" r="4.1" fill="#e8121c"/>
<circle cx="541.04" cy="103.89" r="4.1" fill="#e8121c"/>
<text x="311.5" y="379.8" text-anchor="middle" class="ttl" style="font-size:15px" textLength="111" lengthAdjust="spacing">Release time (h)</text>
<text transform="translate(11.0,164.2) rotate(-90)" text-anchor="middle" class="ttl" style="font-size:14.5px" textLength="235" lengthAdjust="spacing">Cumulative release (%), Gallic acid</text>
<circle cx="177" cy="399.1" r="4" fill="#e8121c"/>
<rect x="173.6" y="470.0" width="7.4" height="7.4" fill="#0c7c16"/>
<line x1="136" y1="416.2" x2="217" y2="416.2" stroke="#cba0d6" stroke-width="1.1" stroke-dasharray="13 3 1.2 3"/>
<line x1="137" y1="436.0" x2="213" y2="436.0" stroke="#241414" stroke-width="2.6" stroke-dasharray="0 6.2" stroke-linecap="round"/>
<line x1="136" y1="455.7" x2="217" y2="455.7" stroke="#828282" stroke-width="1.7" stroke-dasharray="13 4 1.2 3 1.2 4.8"/>
<line x1="136" y1="489.7" x2="217" y2="489.7" stroke="#5a7070" stroke-width="1.1" stroke-dasharray="13 3 1.2 3"/>
<line x1="137" y1="509.7" x2="213" y2="509.7" stroke="#1c2c1c" stroke-width="2.6" stroke-dasharray="0 6.2" stroke-linecap="round"/>
<line x1="136" y1="527.6" x2="217" y2="527.6" stroke="#4ad84a" stroke-width="2.2" stroke-dasharray="13 4 1.2 3 1.2 4.8"/>
<text x="239.2" y="404.4" class="lg" fill="#111" style="font-size:13.5px">A</text>
<text x="239.2" y="422.4" class="lg" fill="#111" textLength="140.2" lengthAdjust="spacingAndGlyphs">Zero order (<tspan font-style="italic">R</tspan><tspan dy="-5.5" font-size="7.5">2</tspan><tspan dy="5.5"> =&#160; 0.504)</tspan></text>
<text x="239.2" y="441.2" class="lg" fill="#2e2ec8" textLength="250.3" lengthAdjust="spacingAndGlyphs">First order [non-linear] model (<tspan font-style="italic">R</tspan><tspan dy="-5.5" font-size="7.5">2</tspan><tspan dy="5.5"> &#8722; 0.990)</tspan></text>
<text x="239.2" y="460.2" class="lg" fill="#111" textLength="232.8" lengthAdjust="spacingAndGlyphs">Higuchi [non-linear] model (<tspan font-style="italic">R</tspan><tspan dy="-5.5" font-size="7.5">2</tspan><tspan dy="5.5"> = 0.810)</tspan></text>
<text x="239.2" y="478.4" class="lg" fill="#111" style="font-size:13.5px">B</text>
<text x="239.2" y="496.3" class="lg" fill="#111" textLength="139.7" lengthAdjust="spacingAndGlyphs">Zero order (<tspan font-style="italic">R</tspan><tspan dy="-5.5" font-size="7.5">2</tspan><tspan dy="5.5"> =&#160; 0.437)</tspan></text>
<text x="239.2" y="514.8" class="lg" fill="#2e2ec8" textLength="251.2" lengthAdjust="spacingAndGlyphs">First order [non-linear] model (<tspan font-style="italic">R</tspan><tspan dy="-5.5" font-size="7.5">2</tspan><tspan dy="5.5"> &#8722; 0.990)</tspan></text>
<text x="239.2" y="532.9" class="lg" fill="#111" textLength="231.2" lengthAdjust="spacingAndGlyphs">Higuchi [non-linear] model (<tspan font-style="italic">R</tspan><tspan dy="-5.5" font-size="7.5">2</tspan><tspan dy="5.5"> &#8722; 0.750)</tspan></text>
</svg>
</body></html>
